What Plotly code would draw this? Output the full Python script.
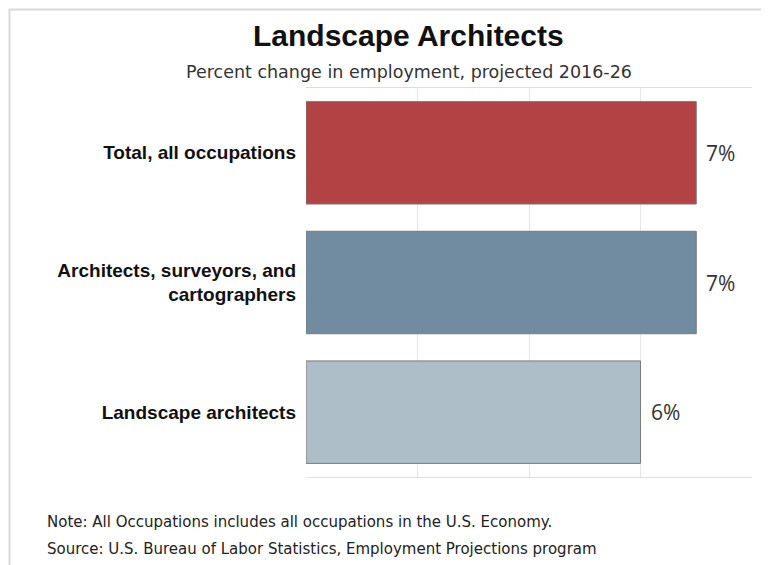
import plotly.graph_objects as go

categories = ["Total, all occupations", "Architects, surveyors, and<br>cartographers", "Landscape architects"]
values = [7, 7, 6]
value_labels = ["7%", "7%", "6%"]
colors = ["#B34244", "#718CA1", "#ADBEC9"]

OFF = 8  # page body margin
W, H = 761, 557
L, R, T, B = 298, 17, 79.5, 88
pw, ph = W - L - R, H - T - B


def px(xw):
    return (xw - OFF - L) / pw


def py(yw):
    return (H - B - (yw - OFF)) / ph


fig = go.Figure()
fig.add_trace(go.Bar(
    y=categories, x=values, orientation="h",
    marker=dict(color=colors, line=dict(color="#7a7a7a", width=1)),
    width=0.79, hoverinfo="skip",
))

for c, v, t in zip(categories, values, value_labels):
    fig.add_annotation(x=v, y=c, text=t, showarrow=False, xanchor="left",
                       xshift=8, font=dict(family="Open Sans", size=21, color="#333333"))

fig.add_annotation(xref="paper", yref="paper", x=px(408), y=py(35), text="<b>Landscape Architects</b>",
                   showarrow=False, xanchor="center", yanchor="middle",
                   font=dict(family="Liberation Sans", size=30, color="#111111"))
fig.add_annotation(xref="paper", yref="paper", x=px(409), y=py(71),
                   text="Percent change in employment, projected 2016-26",
                   showarrow=False, xanchor="center", yanchor="middle",
                   font=dict(family="DejaVu Sans", size=17.5, color="#333333"))
fig.add_annotation(xref="paper", yref="paper", x=px(45), y=py(522),
                   text="Note: All Occupations includes all occupations in the U.S. Economy.",
                   showarrow=False, xanchor="left", yanchor="middle",
                   font=dict(family="DejaVu Sans", size=15, color="#222222"))
fig.add_annotation(xref="paper", yref="paper", x=px(45), y=py(549),
                   text="Source: U.S. Bureau of Labor Statistics, Employment Projections program",
                   showarrow=False, xanchor="left", yanchor="middle",
                   font=dict(family="DejaVu Sans", size=15, color="#222222"))

fig.add_shape(type="rect", xref="paper", yref="paper", x0=px(9.5), y0=py(620), x1=px(820), y1=py(9),
              line=dict(color="#d9d9d9", width=2), layer="below")

fig.update_layout(
    width=W, height=H, margin=dict(l=L, r=R, t=T, b=B),
    paper_bgcolor="white", plot_bgcolor="white", showlegend=False,
    font=dict(family="Liberation Sans"),
    xaxis=dict(range=[0, 8], dtick=2, showticklabels=False, showgrid=True, gridcolor="#e6e6e6",
               zeroline=False, showline=True, mirror=True, linecolor="#dedede", linewidth=1, ticks=""),
    yaxis=dict(autorange="reversed", showgrid=False, showline=False, ticks="", ticklabelstandoff=9,
               zeroline=False, tickmode="array", tickvals=categories,
               ticktext=["<b>" + c.replace("<br>", "</b><br><b>") + "</b>" for c in categories],
               tickfont=dict(family="Liberation Sans", size=19, color="#111111")),
)

fig.write_html("out.html")
